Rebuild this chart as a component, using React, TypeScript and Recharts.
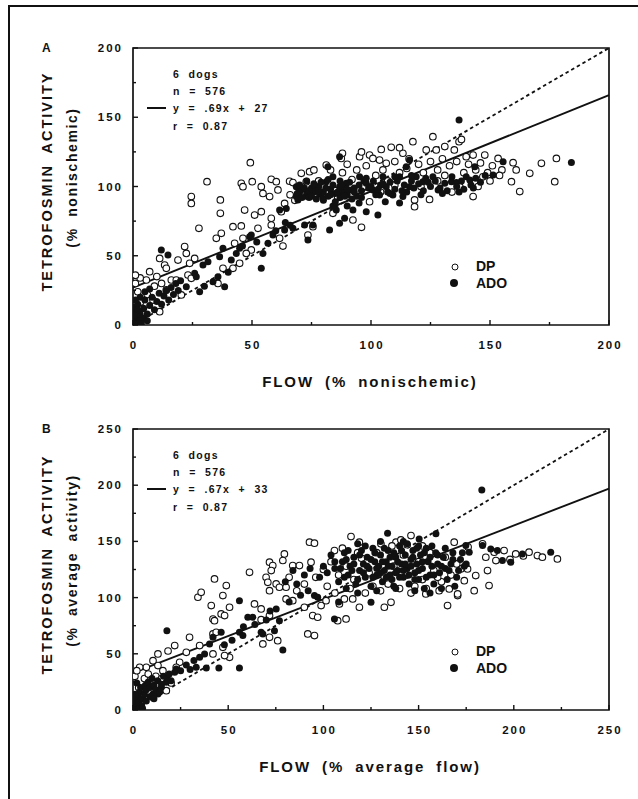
import React from "react";
import {
  ScatterChart,
  Scatter,
  XAxis,
  YAxis,
  ReferenceLine,
  ReferenceArea,
} from "recharts";

const FONT = '"Liberation Sans", Arial, Helvetica, sans-serif';
const INK = "#111";

// axis ticks (only multiples of 50 get a label)
const ticksA = [0, 25, 50, 75, 100, 125, 150, 175, 200];
const ticksB = [0, 25, 50, 75, 100, 125, 150, 175, 200, 225, 250];

// fitted regression line and line of identity
const fitA = [{ x: 0, y: 27 }, { x: 200, y: 166 }];
const identA = [{ x: 0, y: 0 }, { x: 200, y: 200 }];
const fitB = [{ x: 0, y: 33 }, { x: 250, y: 197 }];
const identB = [{ x: 0, y: 0 }, { x: 250, y: 250 }];

// Panel A: DP (open circles), flow vs activity, % nonischemic
const dpA: [number, number][] = [
  [49.3, 117.2], [31.1, 103.5], [24.5, 92.7], [24.5, 87.8], [36.7, 90.3], [36.7, 80.6],
  [27.7, 69.8], [45.5, 102.3], [46.2, 99.9], [50.1, 103.5], [53.9, 99.9], [54.6, 95],
  [58.1, 105.2], [60.2, 103.5], [60.9, 97.5], [57.4, 92.7], [53.9, 81.8], [51.1, 79.4],
  [46.9, 83], [58.1, 77], [62.3, 81.8], [63.7, 87.8], [65.8, 103.8], [67.2, 102.8],
  [70.7, 109.5], [74.2, 110.7], [72.8, 103.5], [81.2, 115.5], [87.5, 120.3], [95.2, 121.5],
  [99.4, 122.7], [100.8, 120.3], [104.3, 126.8], [108.5, 128.3], [103.6, 119.1], [106.4, 116.7],
  [113.4, 124], [117.6, 132.4], [123.2, 126.4], [127.4, 126.4], [131, 128.8], [135, 126.4],
  [137, 132.4], [140, 121.5], [142.9, 122.7], [147.8, 122.7], [153.4, 120.3], [159.7, 117.2],
  [161, 112], [166.7, 109.5], [171.6, 116.7], [177.9, 120.3], [159, 103.5], [162.5, 96.3],
  [177.2, 103.5], [147, 107], [137.3, 99.9], [142.9, 92.7], [118.3, 90.3], [118.3, 85.4],
  [124.6, 90.7], [99.4, 89], [92.4, 75.8], [96, 70.5], [84, 80.6], [42, 71], [45.5, 71.5],
  [35, 62.6], [37.1, 66.2], [42.7, 59], [46.2, 62.6], [49.7, 54.2], [52.5, 69.8], [58.1, 72.2],
  [61.6, 62.6], [63, 57], [73.5, 65], [75.6, 71], [21.7, 56.6], [22.4, 51.7], [25.9, 48.1],
  [11.2, 48.1], [13.3, 43.3], [14, 40.9], [18.9, 46.9], [23.8, 44.5], [7, 38.5], [5.6, 32.5],
  [16.1, 32.5], [18.2, 32.5], [23.1, 36.1], [24.5, 33.7], [14, 25.3], [20.3, 21.7], [11.2, 9.6],
  [8.4, 18], [37.8, 40.9], [42, 40.9], [44.8, 44.5], [47.6, 51.7], [35.7, 30],
  [78, 104], [80, 100], [83, 112], [85, 97], [88, 110], [90, 116], [92, 105], [94, 112],
  [97, 100], [98, 115], [102, 108], [105, 112], [107, 104], [110, 118], [112, 110], [115, 113],
  [116, 120], [120, 116], [122, 110], [125, 118], [128, 112], [130, 120], [133, 115], [136, 118],
  [139, 110], [141, 116], [144, 112], [146, 117], [149, 110], [151, 115], [155, 112], [138, 134],
  [126, 136], [112, 128], [96, 125], [88, 124], [76, 112], [70, 97], [66, 94], [68, 90],
  [86, 92], [104, 96], [110, 101], [128, 104], [134, 96], [121, 100], [131, 108], [150, 104],
  [154, 108], [145, 100], [1, 30], [2, 24], [3, 16], [2, 8], [4, 12], [6, 22], [9, 28],
  [3, 34], [1, 36], [10, 35], [12, 30],
];

// Panel A: ADO (filled circles)
const adoA: [number, number][] = [
  [11.9, 54.2], [14.7, 50.5], [22.4, 27.7], [25.9, 37.3], [26.6, 34.9], [29.4, 43.3],
  [31.5, 45.7], [33.6, 31.3], [35.7, 34.9], [38.5, 27.7], [36.4, 49.3], [37.8, 55.4],
  [41.3, 46.9], [43.4, 51.7], [44.8, 55.4], [49, 63.8], [49.7, 65], [53.9, 40.9], [54.6, 51.7],
  [56.7, 59], [58.8, 65], [61.6, 83], [64.4, 84.2], [63.7, 68.6], [67.2, 69.8], [68.6, 92.7],
  [69.3, 90.3], [73.5, 61.4], [72.1, 72.2], [75.6, 72.2], [77, 97.5], [82.6, 68.6], [86.8, 73.4],
  [88.9, 77], [85.4, 83], [92.4, 83], [98, 81.8], [102.9, 79.4], [81.2, 103.5], [84, 107.1],
  [78.4, 94.4], [79.8, 91.5], [86.8, 99.9], [89.6, 102.3], [91.7, 97.5], [95.2, 107.1],
  [98, 102.3], [100.8, 97.5], [103.6, 93.9], [106.4, 99.9], [109.2, 93.9], [112, 107.1],
  [113.4, 92.7], [116.2, 99.9], [119, 107.1], [121.8, 103.5], [126, 107.1], [128.2, 97.5],
  [131, 102.3], [133.8, 103.5], [135.9, 102.8], [140, 107.1], [141.5, 104.7], [143.6, 114.3],
  [151.3, 108.3], [155.5, 117.9], [184.2, 117.4], [68.6, 99.9], [70, 96], [72.8, 93],
  [81.9, 114.3], [86.8, 121.5], [114.8, 114.3], [116.2, 119.1], [137, 148],
  [71, 98], [73, 95], [75, 99], [74, 92], [76, 96], [78, 100], [80, 96], [82, 93], [83, 98],
  [85, 95], [87, 92], [88, 96], [90, 94], [93, 99], [94, 93], [96, 97], [97, 104], [99, 99],
  [101, 104], [102, 94], [104, 101], [105, 107], [107, 96], [108, 103], [110, 98], [111, 104],
  [114, 101], [115, 96], [117, 104], [118, 99], [120, 102], [122, 97], [123, 106], [125, 100],
  [127, 104], [129, 99], [132, 97], [134, 107], [136, 100], [138, 104], [139, 98], [142, 101],
  [144, 106], [146, 103], [148, 108], [90, 86], [95, 88], [106, 89], [112, 88], [84, 86],
  [60, 68], [64, 74], [66, 72], [52, 60], [46, 57], [40, 38], [30, 28], [28, 24],
  [69, 95], [70, 101], [71, 92], [72, 99], [73, 104], [74, 97], [75, 93], [76, 102], [77, 91],
  [78, 97], [79, 103], [80, 90], [81, 99], [82, 105], [83, 94], [84, 101], [85, 89], [86, 96],
  [87, 104], [88, 100], [89, 93], [90, 98], [91, 103], [92, 91], [93, 96], [95, 101], [96, 92],
  [98, 106], [100, 100], [103, 98], [105, 102], [108, 95], [110, 107], [113, 97], [117, 108],
  [121, 94], [124, 103], [130, 95], [137, 96], [143, 99],
  [0.5, 2], [1, 4], [1.5, 1], [2, 6], [2.5, 3], [3, 8], [1, 10], [0.8, 13], [2, 15], [4, 5],
  [4.5, 12], [5, 18], [6, 8], [7, 14], [8, 20], [9, 11], [10, 17], [11, 23], [12, 15],
  [13, 21], [14, 25], [15, 18], [16, 27], [17, 22], [18, 30], [19, 25], [20, 32], [3, 20],
  [5, 24], [7, 26], [1, 18], [2, 11], [0.5, 7], [3, 3], [6, 3], [1.5, 0.5], [3.5, 1],
];

// Panel B: DP (open circles), % average flow vs % average activity
const dpB: [number, number][] = [
  [92.7, 149.3], [95.3, 148.4], [114.5, 154.3], [118.9, 149.3], [130.2, 147.8], [138.1, 149.3],
  [140.7, 151.3], [146, 155.2], [168.7, 149.3], [183.6, 147.8], [189.7, 140.4], [194.9, 141.8],
  [201, 138.9], [208, 140.4], [212.4, 137.4], [222.9, 134.4], [185.3, 135.9], [190.6, 132.9],
  [172.2, 125.5], [175.7, 125.5], [180, 119.6], [186.2, 124], [174, 115.1], [179.2, 106.2],
  [187, 110.7], [165.2, 92.9], [170.5, 101.8], [79.5, 138.9], [78.7, 133], [71.7, 131.5],
  [73.4, 128.5], [72.6, 124], [69.9, 118.1], [70.8, 113.6], [71.7, 106.2], [75.2, 112.2],
  [76.9, 109.2], [80.4, 109.2], [83.9, 128.5], [87.4, 128.5], [93.5, 131.5], [105.8, 141.8],
  [61.2, 122.5], [42.8, 116.6], [49, 110.7], [47.2, 101.8], [34.1, 100.3], [35.8, 104.7],
  [41.1, 92.9], [42, 80.9], [42.8, 79.5], [50.7, 91.4], [46.3, 85.5], [48.1, 84], [63.8, 94.4],
  [67.3, 80.4], [71.7, 84], [80.4, 98.8], [83.9, 97.3], [90, 91.4], [94.4, 84], [97, 82.5],
  [98.8, 92.9], [101.4, 97.3], [108.4, 94.4], [111, 98.8], [115.4, 98.8], [107.5, 79.5],
  [111.9, 81], [91.8, 67.7], [95.3, 66.2], [118.9, 91.4], [132, 91.4], [135.5, 95.8],
  [153.8, 103.3], [160.8, 106.2], [166.1, 107.7], [170.5, 103.3], [42, 67.7], [43.7, 69.1],
  [29.7, 64.7], [21.9, 57.3], [18.4, 52.5], [13.1, 49.9], [28, 51.3], [35, 57.3], [47.2, 55.8],
  [50.7, 46.9], [48.1, 48.4], [68.2, 58.8], [71.7, 64.7], [76, 61.7], [67.3, 89.9], [24.5, 42.4],
  [15.7, 35], [13.1, 39.5], [7, 38], [3.5, 38], [10.5, 43.9], [17.5, 17.2], [22.7, 38], [42, 49.9],
  [100, 125], [104, 132], [108, 120], [112, 128], [116, 116], [120, 135], [124, 122], [126, 110],
  [128, 140], [132, 118], [134, 112], [137, 128], [142, 138], [144, 120], [148, 110], [150, 132],
  [152, 116], [156, 140], [158, 124], [162, 114], [164, 136], [167, 120], [170, 130], [176, 145],
  [96, 118], [90, 112], [86, 106], [82, 118], [102, 110], [106, 104], [114, 108], [122, 104],
  [130, 106], [140, 108], [146, 104], [154, 108], [160, 118], [110, 144], [118, 140], [136, 146],
  [144, 147], [152, 146], [198, 134], [205, 137], [215, 136], [2, 2], [4, 6], [5, 12], [3, 20],
  [6, 28], [8, 32], [10, 24], [12, 30], [1, 30], [2, 35], [15, 28], [20, 24],
];

// Panel B: ADO (filled circles)
const adoB: [number, number][] = [
  [183.2, 195.8], [133.7, 157.3], [159.1, 156.7], [150.3, 152.2], [174.8, 146.3], [176.6, 140.4],
  [183.6, 146.3], [187.9, 143.3], [191.4, 141.8], [194, 132.9], [198.4, 131.5], [204.5, 138.9],
  [219.4, 140.4], [125, 95.8], [105.8, 81], [78.7, 53.4], [55.9, 37.4], [45.1, 37.4], [38.5, 37.4],
  [33.2, 38], [35, 46.9], [37.6, 49.9], [40.2, 58.8], [42, 64.7], [46.3, 69.1], [55.9, 69.1],
  [57.7, 66.2], [60.3, 82.5], [62.9, 82.5], [67.3, 69.1], [68.2, 67.7], [74.3, 70.6], [75.2, 89.9],
  [55.9, 97.3], [95.3, 101.8], [97, 100.3], [76.9, 79.5], [17.8, 70.6], [22.7, 36.5], [21.9, 33.5],
  [17.5, 24.6], [14.9, 20.2], [13.1, 14.2], [10.5, 14.2],
  [98, 118], [100, 128], [102, 122], [104, 138], [106, 126], [108, 114], [110, 132], [111, 140],
  [113, 120], [114, 128], [116, 136], [117, 112], [119, 124], [120, 142], [121, 130], [122, 118],
  [123, 136], [124, 126], [125, 110], [126, 144], [127, 132], [128, 120], [129, 128], [130, 138],
  [131, 114], [132, 124], [133, 132], [134, 142], [135, 120], [136, 128], [137, 110], [138, 136],
  [139, 124], [140, 146], [141, 130], [142, 118], [143, 138], [144, 126], [145, 112], [146, 134],
  [147, 142], [148, 122], [149, 130], [150, 116], [151, 138], [152, 126], [153, 108], [154, 144],
  [155, 132], [156, 120], [157, 128], [158, 112], [159, 140], [160, 130], [161, 122], [162, 108],
  [163, 136], [164, 126], [165, 116], [167, 130], [168, 140], [169, 110], [171, 124], [172, 134],
  [174, 128], [112, 108], [118, 104], [128, 106], [138, 108], [148, 106], [156, 104], [106, 132],
  [118, 148], [130, 150], [142, 150], [150, 146], [90, 120], [93, 126], [86, 112], [80, 114],
  [84, 124], [108, 96],
  [109, 126], [111, 118], [112, 134], [113, 142], [115, 124], [116, 130], [118, 116], [119, 138],
  [121, 122], [122, 146], [123, 128], [125, 134], [126, 118], [127, 140], [128, 126], [130, 122],
  [131, 132], [132, 144], [133, 118], [134, 128], [135, 136], [136, 116], [137, 140], [138, 122],
  [139, 132], [140, 118], [141, 142], [142, 124], [143, 130], [144, 148], [145, 120], [146, 128],
  [147, 136], [148, 116], [149, 144], [150, 124], [152, 132], [153, 140], [154, 118], [156, 136],
  [157, 146], [158, 120], [160, 138], [162, 128], [164, 144], [166, 124], [168, 134], [170, 118],
  [173, 140], [175, 130],
  [0.5, 2], [1, 5], [1.5, 9], [2, 3], [2.5, 12], [3, 7], [3.5, 16], [4, 20], [4.5, 4], [5, 10],
  [6, 14], [6.5, 22], [7, 18], [8, 25], [9, 20], [10, 28], [11, 22], [12, 18], [13, 26], [15, 23],
  [16, 30], [18, 28], [19, 32], [20, 26], [1, 14], [2, 24], [0.8, 0.5], [3, 1], [5, 1.5], [7, 8],
  [9, 12], [11, 10], [14, 16], [25, 35], [28, 40], [30, 36], [32, 44], [48, 58], [52, 62],
  [58, 74], [64, 76], [70, 80], [72, 88], [82, 96], [88, 102], [92, 106],
];

const toPts = (arr: [number, number][]) => arr.map(([x, y]) => ({ x, y }));

const OpenDot = (p: any) => (
  <circle cx={p.cx} cy={p.cy} r={3.3} fill="#fff" stroke={INK} strokeWidth={1.1} />
);
const FilledDot = (p: any) => <circle cx={p.cx} cy={p.cy} r={3.5} fill={INK} />;

// ticks point into the plot; tickSize/tickMargin are 0 so (x, y) sits on the axis line
const YTick = (p: any) => {
  const { x, y, payload } = p;
  const major = payload.value % 50 === 0;
  return (
    <g>
      <line x1={x} x2={x + (major ? 5 : 3)} y1={y} y2={y} stroke={INK} strokeWidth={1.4} />
      {major && (
        <text x={x - 10} y={y + 4} textAnchor="end" fontFamily={FONT} fontWeight="bold"
          fontSize={11.5} letterSpacing={2} fill={INK}>
          {payload.value}
        </text>
      )}
    </g>
  );
};

const XTick = (p: any) => {
  const { x, y, payload } = p;
  const major = payload.value % 50 === 0;
  return (
    <g>
      <line x1={x} x2={x} y1={y} y2={y - (major ? 5 : 3)} stroke={INK} strokeWidth={1.4} />
      {major && (
        <text x={x + 1} y={y + 24} textAnchor="middle" fontFamily={FONT} fontWeight="bold"
          fontSize={11.5} letterSpacing={2} fill={INK}>
          {payload.value}
        </text>
      )}
    </g>
  );
};

const XTitle = (p: any) => {
  const vb = p.viewBox;
  return (
    <text x={vb.x + vb.width / 2 - 1} y={vb.y + 62} textAnchor="middle" fontFamily={FONT}
      fontWeight="bold" fontSize={15} letterSpacing={1.9} wordSpacing={5} fill={INK}>
      {p.text}
    </text>
  );
};

const YTitle = (p: any) => {
  const vb = p.viewBox;
  const ax = vb.x + vb.width;
  const mid = vb.y + vb.height / 2;
  const x1 = ax - 86;
  const x2 = ax - 61;
  const c1 = mid - 5;
  const c2 = mid - 9;
  return (
    <g fontFamily={FONT} fontWeight="bold" fill={INK} textAnchor="middle">
      <text x={x1} y={c1} transform={`rotate(-90 ${x1} ${c1})`} dy={5} fontSize={14.5}
        letterSpacing={2} wordSpacing={5}>
        TETROFOSMIN ACTIVITY
      </text>
      <text x={x2} y={c2} transform={`rotate(-90 ${x2} ${c2})`} dy={5} fontSize={14}
        letterSpacing={1.6} wordSpacing={5}>
        {p.text}
      </text>
    </g>
  );
};

interface PanelProps {
  top: number;
  margin: { top: number; right: number; bottom: number; left: number };
  max: number;
  ticks: number[];
  dp: [number, number][];
  ado: [number, number][];
  fit: { x: number; y: number }[];
  ident: { x: number; y: number }[];
  letter: string;
  yText: string;
  xText: string;
  eq: string;
}

const W = 638;
const H = 400;
const YW = 60;
const XH = 30;

const txt: React.CSSProperties = {
  position: "absolute",
  fontFamily: FONT,
  fontWeight: "bold",
  color: INK,
  whiteSpace: "pre",
  lineHeight: "14px",
};

function Panel(props: PanelProps) {
  const { top, margin, max, ticks, dp, ado, fit, ident, letter, yText, xText, eq } = props;
  const plotTop = margin.top;
  const plotBottom = H - margin.bottom - XH;
  const stats = ["6  dogs", "n  =  576", eq, "r  =  0.87"];
  const statY = [26, 43, 60, 78];
  return (
    <div style={{ position: "absolute", left: 0, top, width: W, height: H }}>
      <ScatterChart width={W} height={H} margin={margin}>
        <XAxis type="number" dataKey="x" domain={[0, max]} ticks={ticks} height={XH}
          tickSize={0} tickMargin={0} tickLine={false} axisLine={false} tick={<XTick />}
          interval={0} allowDataOverflow label={<XTitle text={xText} />} />
        <YAxis type="number" dataKey="y" domain={[0, max]} ticks={ticks} width={YW}
          tickSize={0} tickMargin={0} tickLine={false} axisLine={false} tick={<YTick />}
          interval={0} allowDataOverflow label={<YTitle text={yText} />} />
        <ReferenceArea x1={0} x2={max} y1={0} y2={max} fill="none" stroke={INK}
          strokeWidth={1.7} />
        <ReferenceLine segment={ident} stroke={INK} strokeWidth={1.8} strokeDasharray="3.5 3" />
        <ReferenceLine segment={fit} stroke={INK} strokeWidth={1.9} />
        <Scatter name="DP" data={toPts(dp)} shape={OpenDot} isAnimationActive={false} />
        <Scatter name="ADO" data={toPts(ado)} shape={FilledDot} isAnimationActive={false} />
      </ScatterChart>
      <div style={{ ...txt, left: 42, top: plotTop - 7, fontSize: 12 }}>{letter}</div>
      {stats.map((s, i) => (
        <div key={s} style={{ ...txt, left: 173, top: plotTop + statY[i] - 7, fontSize: 10.5,
          letterSpacing: 1.3 }}>
          {s}
        </div>
      ))}
      <div style={{ position: "absolute", left: 147, width: 19, height: 2, background: INK,
        top: plotTop + statY[2] - 1 }} />
      <svg style={{ position: "absolute", left: 440, top: plotBottom - 70 }} width={30} height={40}>
        <circle cx={15} cy={12} r={3} fill="#fff" stroke={INK} strokeWidth={1} />
        <circle cx={14} cy={28} r={4} fill={INK} />
      </svg>
      <div style={{ ...txt, left: 476, top: plotBottom - 66, fontSize: 14 }}>DP</div>
      <div style={{ ...txt, left: 476, top: plotBottom - 49, fontSize: 14 }}>ADO</div>
    </div>
  );
}

export default function App() {
  return (
    <div style={{ position: "absolute", left: 0, top: 0, width: W, height: 799,
      background: "#fff", overflow: "hidden" }}>
      <div style={{ position: "absolute", left: 8, top: 5, width: 640, height: 800,
        borderTop: `2px solid ${INK}`, borderLeft: `2px solid ${INK}` }} />
      <Panel top={0} margin={{ top: 48, right: 29, bottom: 45, left: 73 }} max={200}
        ticks={ticksA} dp={dpA} ado={adoA} fit={fitA} ident={identA} letter="A"
        yText="(% nonischemic)" xText="FLOW (% nonischemic)" eq="y  =  .69x  +  27" />
      <Panel top={390} margin={{ top: 39, right: 29, bottom: 50, left: 73 }} max={250}
        ticks={ticksB} dp={dpB} ado={adoB} fit={fitB} ident={identB} letter="B"
        yText="(% average activity)" xText="FLOW (% average flow)" eq="y  =  .67x  +  33" />
    </div>
  );
}
